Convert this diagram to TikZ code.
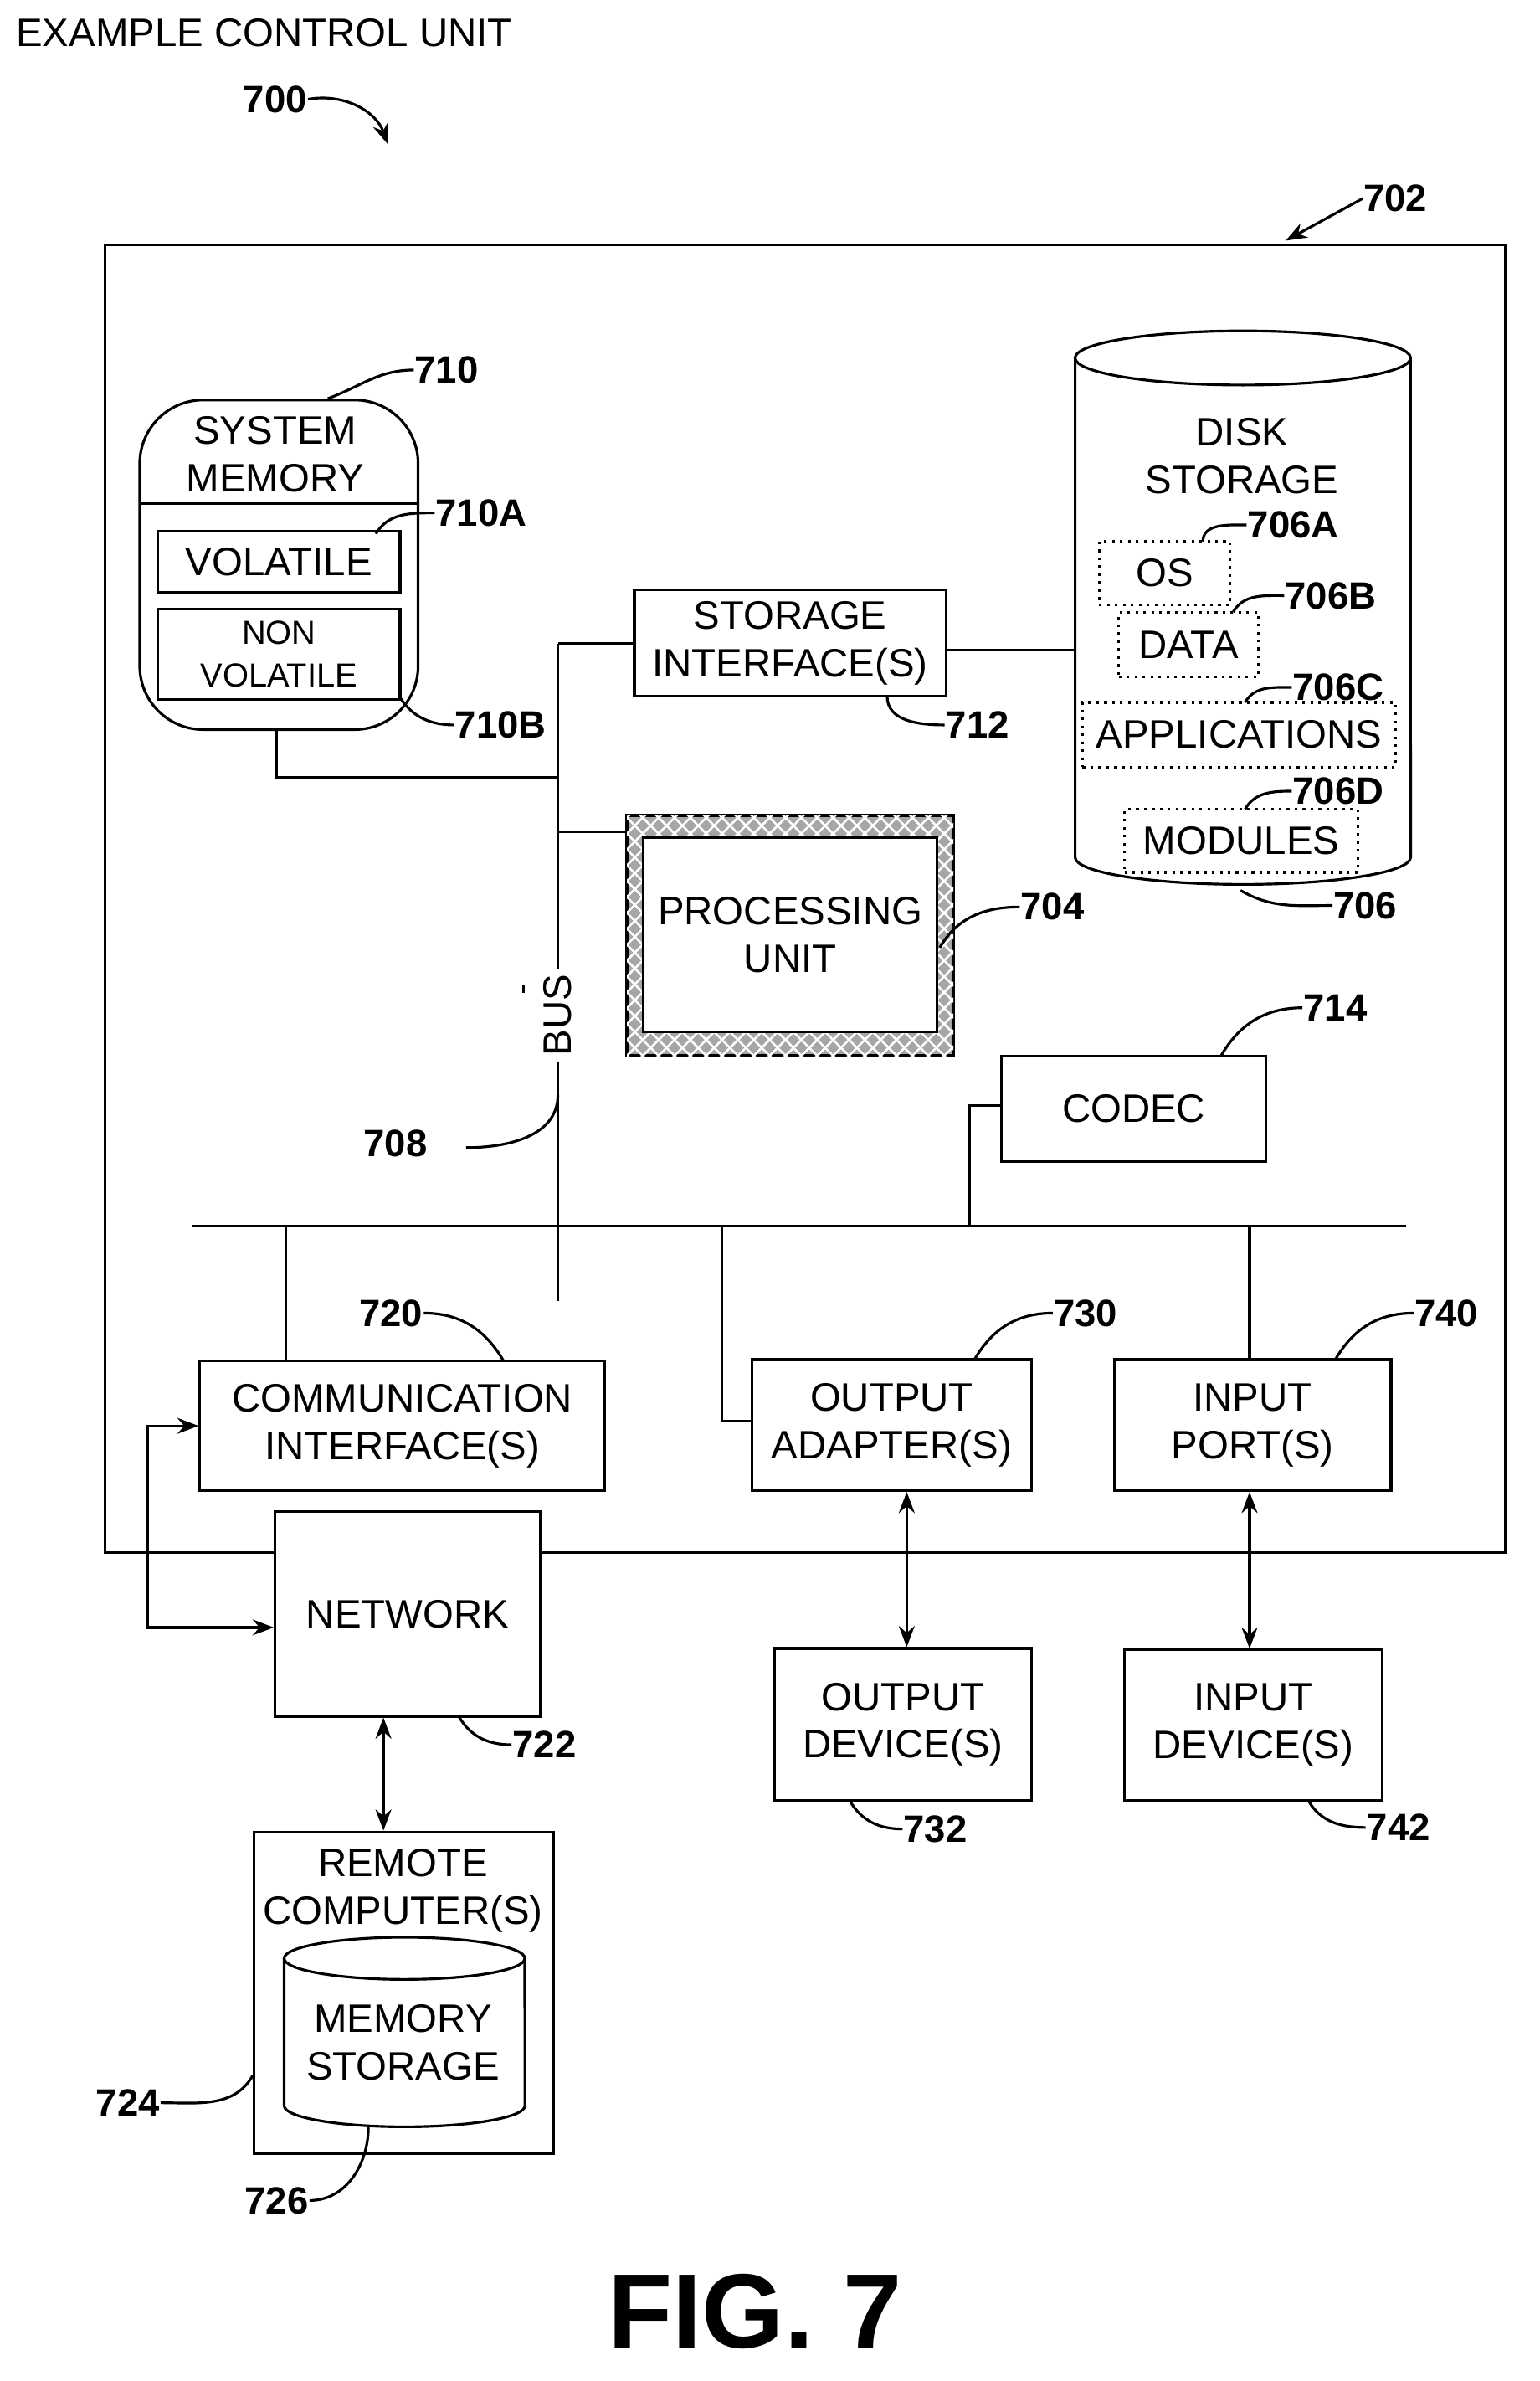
\documentclass[tikz,border=0pt]{standalone}
\usepackage{fontspec}
\setmainfont{Liberation Sans}
\usetikzlibrary{shapes.geometric,patterns,arrows.meta}
\begin{document}
\begin{tikzpicture}[x=0.01cm,y=-0.01cm,
  every node/.style={font=\fontsize{7.5}{9}\selectfont, align=center, inner sep=0pt},
  box/.style={draw, line width=0.5pt},
  dbox/.style={draw, densely dotted, line width=0.5pt},
  num/.style={font=\fontsize{7.2}{9}\selectfont\bfseries},
  ln/.style={line width=0.5pt},
  arr/.style={line width=0.5pt,{Stealth[length=4pt]}-{Stealth[length=4pt]}}]
\useasboundingbox (0,0) rectangle (1024,1583);
\node[anchor=west] (title) at (10,22) {EXAMPLE CONTROL UNIT};
\node[num] (n700) at (183,66) {700};
\coordinate (a700) at (258,96);
\draw[ln,-{Stealth[length=4pt]}] (n700.east) to[out=10,in=110] (a700);
% outer
\node[box, minimum width=9.31cm, minimum height=8.69cm] (outer) at (535.5,597.5) {};
\node[num] (n702) at (928,132) {702};
\coordinate (a702) at (855,160);
\draw[ln,-{Stealth[length=4pt]}] (n702.west) -- (a702);
% system memory
\node[box, rounded corners=12pt, minimum width=1.85cm, minimum height=2.19cm] (sysmem) at (185.5,375.5) {};
\draw[ln] (93,335) -- (278,335);
\node (smt) at (183,302) {SYSTEM\\MEMORY};
\node[box, minimum width=1.61cm, minimum height=0.41cm] (vol) at (185.5,373.5) {VOLATILE};
\node[box, minimum width=1.61cm, minimum height=0.60cm, font=\fontsize{6.3}{8}\selectfont] (nvol) at (185.5,435) {NON\\VOLATILE};
\node[num] (n710) at (297,246) {710};
\draw[ln] (n710.west) to[out=180,in=20] (218,265);
\node[num] (n710a) at (320,341) {710A};
\draw[ln] (n710a.west) to[out=180,in=60] (250,355);
\node[num] (n710b) at (333,482) {710B};
\draw[ln] (n710b.west) to[out=180,in=-60] (265,462);
% storage interface
\node[box, minimum width=2.07cm, minimum height=0.71cm] (si) at (525.5,427.5) {STORAGE\\INTERFACE(S)};
\node[num] (n712) at (650,482) {712};
\draw[ln] (n712.west) to[out=180,in=-90] (590,463);
% disk
\node[minimum width=2.23cm, minimum height=3.32cm] (disk) at (826.5,404) {};
\draw[ln] (715,238) -- (715,570) arc[start angle=180,end angle=360,x radius=1.115cm,y radius=0.18cm] -- (938,238);
\draw[ln] (826.5,238) ellipse[x radius=1.115cm, y radius=0.18cm];
\node (dst) at (826,303) {DISK\\STORAGE};
\node[dbox, minimum width=0.87cm, minimum height=0.42cm] (os) at (774.5,381) {OS};
\node[dbox, minimum width=0.93cm, minimum height=0.43cm] (data) at (790.5,428.5) {DATA};
\node[dbox, minimum width=2.08cm, minimum height=0.43cm] (apps) at (824,488.5) {APPLICATIONS};
\node[dbox, minimum width=1.55cm, minimum height=0.42cm] (mods) at (825.5,559) {MODULES};
\node[num] (n706a) at (860,349) {706A};
\draw[ln] (n706a.west) to[out=180,in=90] (800,360);
\node[num] (n706b) at (885,396) {706B};
\draw[ln] (n706b.west) to[out=180,in=60] (820,407);
\node[num] (n706c) at (890,457) {706C};
\draw[ln] (n706c.west) to[out=180,in=60] (828,467);
\node[num] (n706d) at (890,526) {706D};
\draw[ln] (n706d.west) to[out=180,in=60] (828,538);
\node[num] (n706) at (908,602) {706};
\draw[ln] (n706.west) to[out=180,in=-30] (825,592);
% processing unit
\node[draw, line width=0.6pt, fill=gray!70, minimum width=2.17cm, minimum height=1.60cm] (puo0) at (525.5,622) {};
\node[pattern=crosshatch, pattern color=white, minimum width=2.17cm, minimum height=1.60cm] (puo) at (525.5,622) {};
\node[box, fill=white, minimum width=1.95cm, minimum height=1.29cm] (pu) at (525.5,621.5) {PROCESSING\\UNIT};
\node[num] (n704) at (700,603) {704};
\draw[ln] (n704.west) to[out=180,in=60] (625,630);
% bus
\coordinate (bt) at (371,428);
\coordinate (bb) at (371,865);
\draw[ln] (bt) -- (bb);
\draw[ln] (bt) -- (si.west |- bt);
\draw[ln] (si.east |- 0,432) -- (disk.west |- 0,432);
\draw[ln] (sysmem.south -| 184,0) -- (184,517) -- (371,517);
\draw[ln] (371,553) -- (puo.west |- 0,553);
\node[rotate=90, fill=white, inner sep=1pt] (bus) at (371,675) {BUS};
\draw[ln] (348,655) -- (348,660);
\node[num] (n708) at (263,760) {708};
\draw[ln] (310,763) to[out=0,in=-90] (371,728);
% codec
\node[box, minimum width=1.76cm, minimum height=0.70cm] (codec) at (754,737) {CODEC};
\node[num] (n714) at (888,670) {714};
\draw[ln] (n714.west) to[out=180,in=60] (812,702);
\coordinate (hb1) at (128,815);
\coordinate (hb2) at (935,815);
\draw[ln] (hb1) -- (hb2);
\draw[ln] (codec.west |- 0,735) -- (645,735) -- (645,815);
% comm
\node[box, minimum width=2.69cm, minimum height=0.86cm] (comm) at (267.5,948) {COMMUNICATION\\INTERFACE(S)};
\draw[ln] (190,815) -- (comm.north -| 190,0);
\node[num] (n720) at (260,873) {720};
\draw[ln] (n720.east) to[out=0,in=120] (335,905);
% output adapter
\node[box, minimum width=1.86cm, minimum height=0.87cm] (oa) at (593,947.5) {OUTPUT\\ADAPTER(S)};
\draw[ln] (480,815) -- (480,945) -- (oa.west |- 0,945);
\node[num] (n730) at (722,873) {730};
\draw[ln] (n730.west) to[out=180,in=60] (648,904);
% input ports
\node[box, minimum width=1.84cm, minimum height=0.87cm] (ip) at (833,947.5) {INPUT\\PORT(S)};
\draw[ln] (831,815) -- (ip.north -| 831,0);
\node[num] (n740) at (962,873) {740};
\draw[ln] (n740.west) to[out=180,in=60] (888,904);
% network
\node[box, fill=white, minimum width=1.76cm, minimum height=1.36cm] (net) at (271,1073) {NETWORK};
\draw[arr] (comm.west) -- (98,948) -- (98,1082) -- (net.west |- 0,1082);
\node[num] (n722) at (362,1160) {722};
\draw[ln] (n722.west) to[out=180,in=-60] (305,1141);
% remote
\node[box, minimum width=1.99cm, minimum height=2.14cm] (rem) at (268.5,1325) {};
\node (remt) at (268,1257) {REMOTE\\COMPUTER(S)};
\draw[arr] (net.south -| 255,0) -- (rem.north -| 255,0);
\node[minimum width=1.6cm, minimum height=1.1cm] (ms) at (269,1356) {};
\draw[ln] (189,1302) -- (189,1400) arc[start angle=180,end angle=360,x radius=0.8cm,y radius=0.14cm] -- (349,1302);
\draw[ln] (269,1302) ellipse[x radius=0.8cm, y radius=0.14cm];
\node (mst) at (268,1358) {MEMORY\\STORAGE};
\node[num] (n724) at (85,1398) {724};
\draw[ln] (n724.east) to[out=0,in=-120] (rem.west |- 0,1380);
\node[num] (n726) at (184,1463) {726};
\draw[ln] (n726.east) to[out=0,in=-90] (245,1414);
% output device
\node[box, minimum width=1.71cm, minimum height=1.01cm] (od) at (600.5,1146.5) {OUTPUT\\DEVICE(S)};
\draw[arr] (oa.south -| 603,0) -- (od.north -| 603,0);
\node[num] (n732) at (622,1216) {732};
\draw[ln] (n732.west) to[out=180,in=-60] (565,1197);
% input device
\node[box, minimum width=1.71cm, minimum height=1.00cm] (id) at (833.5,1147) {INPUT\\DEVICE(S)};
\draw[arr] (ip.south -| 831,0) -- (id.north -| 831,0);
\node[num] (n742) at (930,1215) {742};
\draw[ln] (n742.west) to[out=180,in=-60] (870,1197);
\node[font=\fontsize{20}{24}\selectfont\bfseries] (fig) at (502,1537) {FIG. 7};
\end{tikzpicture}
\end{document}
